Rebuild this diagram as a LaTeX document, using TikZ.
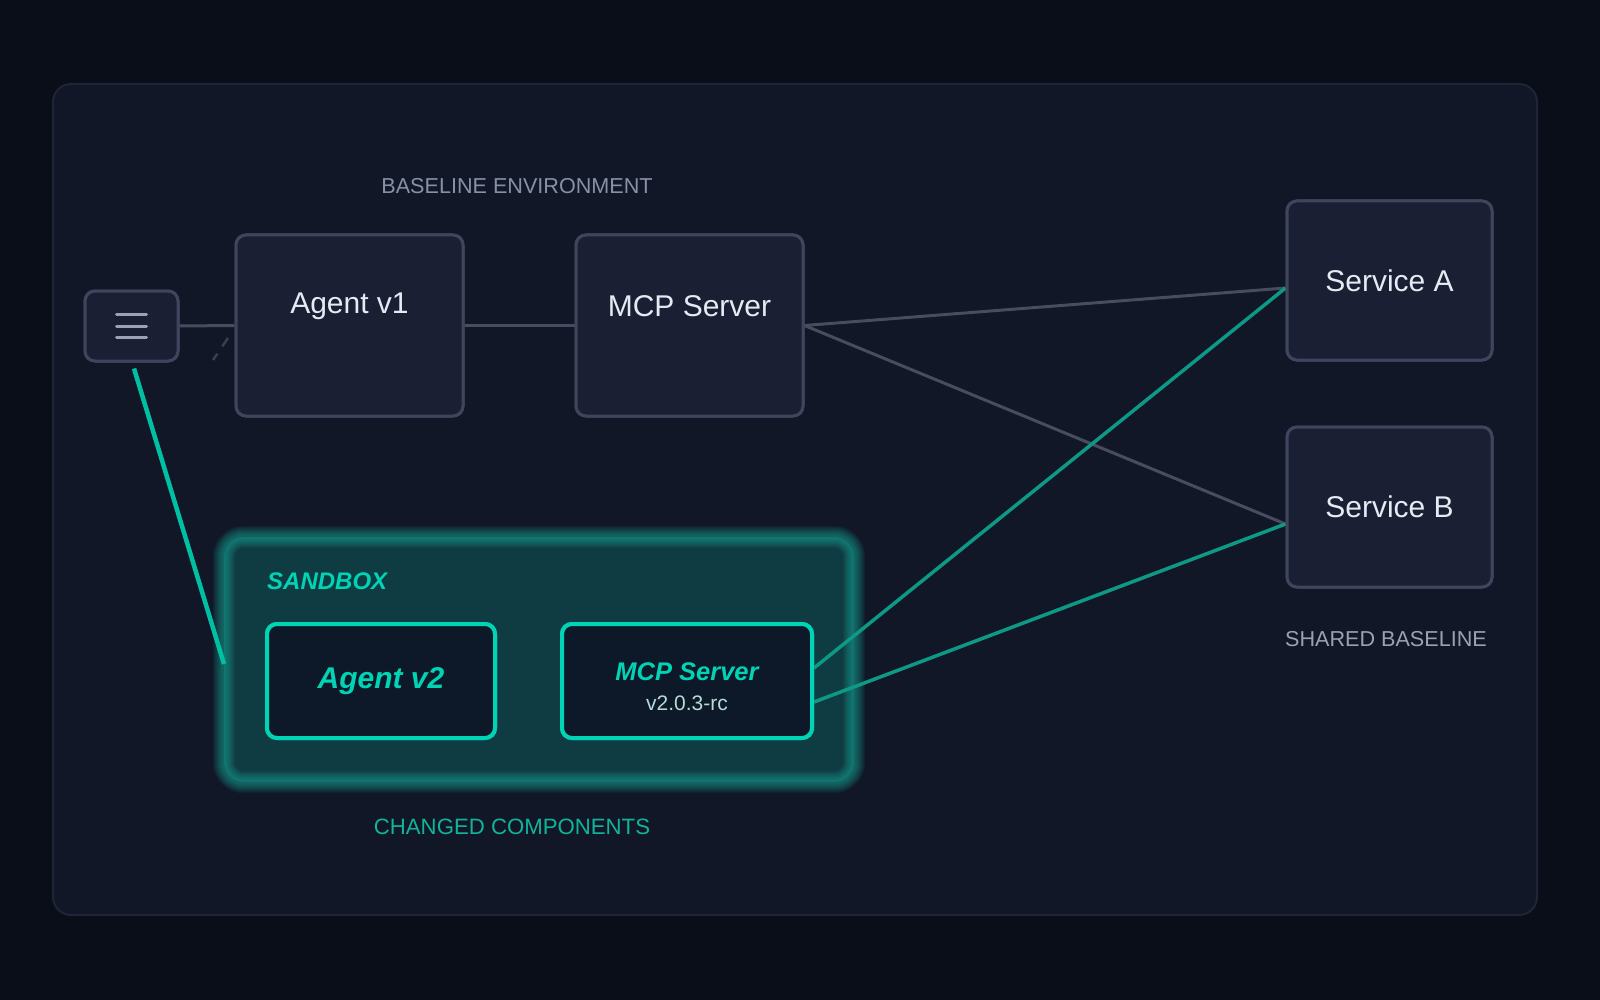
\documentclass[tikz,border=0pt]{standalone}
\usepackage{fontspec}
\setmainfont{Liberation Sans}
\definecolor{bg}{HTML}{0A0E19}
\definecolor{panel}{HTML}{111727}
\definecolor{panelborder}{HTML}{1E2536}
\definecolor{boxfill}{HTML}{1B1F34}
\definecolor{boxborder}{HTML}{3D465C}
\definecolor{txt}{HTML}{E6EAF2}
\definecolor{graytxt}{HTML}{8790A6}
\definecolor{grayline}{HTML}{474C5E}
\definecolor{dashline}{HTML}{3A3F50}
\definecolor{tealbright}{HTML}{00D4B4}
\definecolor{tealline}{HTML}{0E9886}
\definecolor{sandfill}{HTML}{0F3B43}
\definecolor{glow}{HTML}{1FB5A2}
\definecolor{innerfill}{HTML}{0D1828}
\definecolor{vertxt}{HTML}{B5DCD6}
\definecolor{changedtxt}{HTML}{12B39B}
\definecolor{icon}{HTML}{9AA2B4}
\tikzset{
  box/.style={draw=boxborder, fill=boxfill, line width=3pt, rounded corners=10pt, inner sep=0pt},
  tbox/.style={draw=tealbright, fill=innerfill, line width=4pt, rounded corners=10pt, inner sep=0pt},
  conn/.style={draw=grayline, line width=3pt},
  tconn/.style={draw=tealline, line width=3.5pt},
  caption/.style={font=\fontsize{21.6}{26}\selectfont, text=graytxt, inner sep=0pt},
  title/.style={font=\fontsize{30}{36}\selectfont, text=txt, inner sep=0pt},
  iconline/.style={draw=icon, line width=3pt, line cap=round},
}
\begin{document}
\begin{tikzpicture}[x=1pt, y=-1pt]
\useasboundingbox (0,0) rectangle (1600,1000);
\fill[bg] (0,0) rectangle (1600,1000);
% panel
\draw[panelborder, fill=panel, line width=2pt, rounded corners=18pt] (53,84) rectangle (1537,915);

% sandbox with soft glowing border
\node[fill=sandfill, rounded corners=20pt, minimum width=630, minimum height=245, inner sep=0pt] (sandbox) at (539,659.5) {};
\foreach \w in {22,20,18,16,14,12,10,8,6,4}{
  \draw[glow, opacity=0.065, line width=\w pt, rounded corners=20pt] (sandbox.north west) rectangle (sandbox.south east);
}
\node[anchor=west, font=\fontsize{24}{29}\selectfont\bfseries\itshape, text=tealbright, inner sep=0pt] (sandlabel) at (267,581) {SANDBOX};

% nodes
\node[box, minimum width=93, minimum height=70] (menu) at (131.5,326) {};
\node[box, minimum width=227, minimum height=181] (agent1) at (349.5,325.5) {};
\node[box, minimum width=227, minimum height=181] (mcp1) at (689.5,325.5) {};
\node[box, minimum width=205, minimum height=159] (svcA) at (1389.5,280.5) {};
\node[box, minimum width=205, minimum height=160] (svcB) at (1389.5,507) {};
\node[tbox, minimum width=228, minimum height=114] (agent2) at (381,681) {};
\node[tbox, minimum width=250, minimum height=114] (mcp2) at (687,681) {};

% connectors
\coordinate (tealend) at (224,664);
\coordinate (dashA) at (228,338);
\coordinate (dashB) at (213,360);

\draw[conn] (menu.east) -- (agent1.west);
\draw[conn] (agent1.east) -- (mcp1.west);
\draw[conn] (mcp1.east) -- ([yshift=-7.5pt]svcA.west);
\draw[conn] (mcp1.east) -- ([yshift=-17pt]svcB.west);
\draw[dashline, line width=2.5pt, dash pattern=on 10pt off 9pt] (dashA) -- (dashB);
\draw[tconn] ([yshift=13pt]mcp2.east) -- ([yshift=-7.5pt]svcA.west);
\draw[tconn] ([yshift=-21pt]mcp2.east) -- ([yshift=-17pt]svcB.west);
\draw[draw=tealbright!90!black, line width=4.5pt] ([xshift=2.5pt,yshift=-6pt]menu.south) -- (tealend);

% redraw boxes on top of connectors
\node[box, minimum width=93, minimum height=70] at (menu.center) {};
\node[box, minimum width=227, minimum height=181] at (agent1.center) {};
\node[box, minimum width=227, minimum height=181] at (mcp1.center) {};
\node[box, minimum width=205, minimum height=159] at (svcA.center) {};
\node[box, minimum width=205, minimum height=160] at (svcB.center) {};
\node[tbox, minimum width=228, minimum height=114] at (agent2.center) {};
\node[tbox, minimum width=250, minimum height=114] at (mcp2.center) {};

% menu icon
\draw[iconline] (116.5,314.5) -- (146.5,314.5);
\draw[iconline] (116.5,326) -- (146.5,326);
\draw[iconline] (116.5,337.5) -- (146.5,337.5);

% texts
\node[title] (t-agent1) at (349.5,306) {Agent v1};
\node[title] (t-mcp1) at (689.5,306) {MCP Server};
\node[title] (t-svcA) at (svcA.center) {Service A};
\node[title] (t-svcB) at (svcB.center) {Service B};
\node[font=\fontsize{30}{36}\selectfont\bfseries\itshape, text=tealbright, inner sep=0pt] (t-agent2) at (agent2.center) {Agent v2};
\node[font=\fontsize{25.5}{30}\selectfont\bfseries\itshape, text=tealbright, inner sep=0pt] (t-mcp2) at (687,672) {MCP Server};
\node[font=\fontsize{21}{25}\selectfont, text=vertxt, inner sep=0pt] (t-ver) at (687,703) {v2.0.3-rc};

\node[caption] (cap-base) at (517,186) {BASELINE ENVIRONMENT};
\node[caption, text=changedtxt, font=\fontsize{22.2}{26}\selectfont] (cap-changed) at (512,827) {CHANGED COMPONENTS};
\node[caption, text=graytxt!85!white] (cap-shared) at (1386,639) {SHARED BASELINE};
\end{tikzpicture}
\end{document}
